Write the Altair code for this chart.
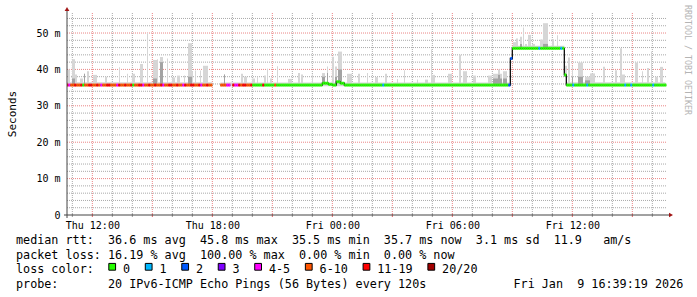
import altair as alt
import pandas as pd

# ---------------- data ----------------
# time in minutes since Thu 00:00, values in ms
X_DOMAIN = [644, 2444]
Y_DOMAIN = [0, 55.5]

X_TICKS = [720, 1080, 1440, 1800, 2160]
X_LABELS = ["Thu 12:00", "Thu 18:00", "Fri 00:00", "Fri 06:00", "Fri 12:00"]
Y_TICKS = [0, 10, 20, 30, 40, 50]

# loss code per 6-minute bin, first bin starts at 642
BIN_START = 642
BIN_MIN = 6
LOSS_EARLY = ("rmooroorgo" "orrooromoo" "rrooomroor" "oorgoorrmo" "orooroormo"
              "orrooroomr" "oorroormoo" "roo" "...." "ooomm.rmmrorroor")
LOSS_LATE_RUNS = [("g", 5), ("r", 1), ("g", 5), ("o", 1), ("g", 53), ("c", 1),
                  ("g", 62), ("b", 2), ("g", 13), ("c", 1), ("g", 10), ("c", 1),
                  ("g", 5), ("c", 1), ("g", 6), ("c", 1), ("g", 18), ("c", 1),
                  ("g", 2), ("c", 1), ("g", 10), ("c", 1), ("g", 6)]

# median rtt, piecewise
MED_BOUNDS = [642, 1410, 1428, 1440, 1452, 1464, 1476, 1974, 1980, 2136, 2142, 2442]
MED_VALUES = [35.7, 36.2, 35.9, 35.7, 36.6, 36.2, 35.7, 43.0, 45.8, 38.5, 35.7]

# smoke: low band just above the median
BAND_T0 = [644, 1104, 1980, 2142]
BAND_T1 = [1080, 1974, 2136, 2439]
BAND_LO = [35.4, 35.4, 45.5, 35.4]
BAND_TOP = [36.5, 36.4, 46.5, 36.5]

# smoke spikes: start, end, top, darker inner top (0 = none)
SMOKE_T0 = [647, 659, 668, 683, 695, 704, 722, 758, 800, 824, 839, 863, 884, 902, 914,
            923, 944, 959, 974, 995, 1007, 1019, 1028, 1043, 1052,
            1115, 1166, 1175, 1199, 1214, 1235, 1244, 1253, 1274, 1307, 1337, 1346, 1379,
            1409, 1424, 1439, 1448, 1457, 1484, 1517, 1544,
            1568, 1598, 1634, 1655, 1694, 1718, 1736, 1739, 1787, 1820, 1832, 1862, 1907,
            1922, 1937, 1952,
            1982, 1991, 2003, 2012, 2018, 2027, 2039, 2063, 2072, 2099, 2114,
            2135, 2147, 2159, 2177, 2198, 2213, 2252, 2288, 2303, 2309, 2348, 2369, 2384,
            2396, 2408, 2423]
SMOKE_T1 = [653, 668, 674, 692, 698, 710, 734, 764, 803, 827, 848, 872, 887, 914, 917,
            932, 947, 968, 983, 998, 1019, 1022, 1031, 1046, 1067,
            1118, 1172, 1184, 1208, 1217, 1241, 1247, 1259, 1277, 1319, 1343, 1352, 1382,
            1418, 1427, 1445, 1454, 1469, 1499, 1523, 1547,
            1577, 1604, 1637, 1658, 1697, 1727, 1739, 1748, 1799, 1826, 1844, 1871, 1919,
            1949, 1943, 1964,
            1991, 1997, 2009, 2015, 2024, 2036, 2048, 2072, 2087, 2105, 2117,
            2144, 2153, 2162, 2192, 2213, 2228, 2258, 2294, 2309, 2318, 2357, 2372, 2390,
            2399, 2417, 2432]
SMOKE_TOP = [40.0, 42.8, 38.6, 37.5, 38.8, 39.5, 38.5, 38.0, 40.6, 38.8, 38.8, 41.5, 50.0, 42.6, 42.8,
             43.4, 43.0, 37.8, 38.3, 38.3, 47.2, 39.5, 39.7, 39.7, 41.0,
             38.6, 38.8, 38.0, 37.5, 38.0, 38.3, 40.2, 37.5, 40.9, 37.4, 39.0, 38.6, 38.6,
             39.0, 40.8, 43.5, 40.8, 44.9, 38.8, 38.8, 39.0,
             37.9, 38.8, 37.4, 39.8, 37.2, 37.2, 45.5, 38.5, 38.8, 44.0, 39.5, 38.3, 38.3,
             38.8, 40.0, 39.5,
             47.5, 48.5, 49.0, 51.5, 47.0, 49.5, 47.0, 48.2, 52.7, 48.3, 49.4,
             41.0, 43.3, 41.0, 41.9, 38.0, 38.9, 40.7, 39.8, 45.8, 38.6, 41.9, 39.5, 40.4,
             44.9, 38.0, 40.7]
SMOKE_DARK = [0, 37.5, 0, 0, 38.8, 0, 0, 0, 0, 0, 0, 0, 0, 37.5, 0,
              42.0, 0, 0, 0, 0, 38.0, 0, 0, 0, 0,
              38.6, 0, 0, 0, 0, 0, 0, 0, 0, 0, 0, 0, 0,
              38.0, 39.0, 0, 38.0, 40.0, 0, 0, 0,
              0, 0, 0, 0, 0, 0, 0, 0, 0, 0, 0, 0, 0,
              37.5, 38.5, 37.5,
              0, 0, 47.0, 0, 0, 0, 0, 0, 47.0, 0, 0,
              38.0, 0, 38.0, 38.0, 37.0, 0, 0, 0, 0, 0, 0, 0, 0,
              0, 0, 0]

LOSS_CODES = ["g", "c", "b", "v", "m", "o", "r", "d"]
LOSS_LABELS = ["0", "1", "2", "3", "4-5", "6-10", "11-19", "20/20"]
LOSS_COLORS = ["#26ff00", "#00b8ff", "#0059ff", "#7e00ff", "#ff00ff", "#ff5500", "#ff0000", "#a10000"]

LINE1 = "median rtt:  36.6 ms avg  45.8 ms max  35.5 ms min  35.7 ms now  3.1 ms sd  11.9   am/s"
LINE2 = "packet loss: 16.19 % avg  100.00 % max  0.00 % min  0.00 % now"
LINE3 = "loss color:"
LINE4 = "probe:       20 IPv6-ICMP Echo Pings (56 Bytes) every 120s"
DATE_TEXT = "Fri Jan  9 16:39:19 2026"
Y_TITLE = "Seconds"
WATERMARK = "RRDTOOL / TOBI OETIKER"

# ---------------- styling / layout ----------------
MONO = "DejaVu Sans Mono"
W, H = 600, 202
LEFT, TOP = 67, 13
GRID_GRAY = "#a9a9a9"
GRID_RED = "#ea8585"
ARROW = "#a11515"
AXIS_COL = "#444444"
SMOKE_LIGHT = "#d6d6d6"
SMOKE_DARKC = "#a3a3a3"


def median_at(t):
    for i, v in enumerate(MED_VALUES):
        if MED_BOUNDS[i] <= t < MED_BOUNDS[i + 1]:
            return v
    return MED_VALUES[-1]


codes = list(LOSS_EARLY)
for c, n in LOSS_LATE_RUNS:
    codes += [c] * n

bins, line_rows = [], []
run = 0
for i, c in enumerate(codes):
    t0 = BIN_START + i * BIN_MIN
    t1 = t0 + BIN_MIN
    if c == ".":
        run += 1
        continue
    v = median_at(t0 + BIN_MIN / 2)
    bins.append({"t0": t0, "t1": t1, "v": v, "code": c})
    line_rows.append({"t": t0, "v": v, "run": run, "o": 2 * i})
    line_rows.append({"t": t1, "v": v, "run": run, "o": 2 * i + 1})
bins_df = pd.DataFrame(bins)
line_df = pd.DataFrame(line_rows)

smoke_df = pd.DataFrame({"t0": SMOKE_T0, "t1": SMOKE_T1, "top": SMOKE_TOP, "dark": SMOKE_DARK})
smoke_df["lo"] = [median_at((a + b) / 2) for a, b in zip(SMOKE_T0, SMOKE_T1)]
dark_df = smoke_df[smoke_df["dark"] > 0]
band_df = pd.DataFrame({"t0": BAND_T0, "t1": BAND_T1, "lo": BAND_LO, "top": BAND_TOP})

hours = list(range(660, 2444, 60))
vgrid = pd.DataFrame({"t": hours, "major": [h % 180 == 0 for h in hours]})
yvals = list(range(2, 56, 2))
hgrid = pd.DataFrame({"y": yvals, "major": [v % 10 == 0 for v in yvals]})

xs = alt.Scale(domain=X_DOMAIN, nice=False, zero=False)
ys = alt.Scale(domain=Y_DOMAIN, nice=False, zero=False)

x_expr = " : ".join(f"datum.value == {v} ? '{l}'" for v, l in zip(X_TICKS, X_LABELS)) + " : ''"
xaxis = alt.Axis(values=X_TICKS, labelExpr=x_expr, title=None, grid=False, domain=False,
                 ticks=False, labelFont=MONO, labelFontSize=10, labelColor="#000000",
                 labelPadding=5, labelFlush=False, labelOverlap=False)
yaxis = alt.Axis(values=Y_TICKS,
                 labelExpr="datum.value == 0 ? '0\u00a0\u00a0' : datum.value + '\u00a0m'",
                 title=None, grid=False, domain=False, ticks=False, labelFont=MONO,
                 labelFontSize=10, labelColor="#000000", labelPadding=7, labelOverlap=False)

layers = []

# grid
layers.append(alt.Chart(vgrid).mark_rule(strokeDash=[1, 1], strokeWidth=1).encode(
    x=alt.X("t:Q", scale=xs, axis=xaxis),
    y=alt.value(0), y2=alt.value(H),
    color=alt.condition("datum.major", alt.value(GRID_RED), alt.value(GRID_GRAY))))
layers.append(alt.Chart(hgrid).mark_rule(strokeDash=[1, 1], strokeWidth=1).encode(
    y=alt.Y("y:Q", scale=ys, axis=yaxis),
    x=alt.value(0), x2=alt.value(W),
    color=alt.condition("datum.major", alt.value(GRID_RED), alt.value(GRID_GRAY))))

# smoke
layers.append(alt.Chart(band_df).mark_rect(color=SMOKE_LIGHT, clip=True).encode(
    x=alt.X("t0:Q", scale=xs, axis=xaxis), x2="t1:Q",
    y=alt.Y("lo:Q", scale=ys, axis=yaxis), y2="top:Q"))
layers.append(alt.Chart(smoke_df).mark_rect(color=SMOKE_LIGHT, clip=True).encode(
    x=alt.X("t0:Q", scale=xs, axis=xaxis), x2="t1:Q",
    y=alt.Y("lo:Q", scale=ys, axis=yaxis), y2="top:Q"))
layers.append(alt.Chart(dark_df).mark_rect(color=SMOKE_DARKC, clip=True).encode(
    x=alt.X("t0:Q", scale=xs, axis=xaxis), x2="t1:Q",
    y=alt.Y("lo:Q", scale=ys, axis=yaxis), y2="dark:Q"))

# median
layers.append(alt.Chart(line_df).mark_line(color="#111111", strokeWidth=1.3, clip=True).encode(
    x=alt.X("t:Q", scale=xs, axis=xaxis),
    y=alt.Y("v:Q", scale=ys, axis=yaxis),
    detail="run:N", order="o:Q"))
layers.append(alt.Chart(bins_df).mark_rule(strokeWidth=3, strokeCap="butt", clip=True).encode(
    x=alt.X("t0:Q", scale=xs, axis=xaxis), x2="t1:Q",
    y=alt.Y("v:Q", scale=ys, axis=yaxis),
    color=alt.Color("code:N", scale=alt.Scale(domain=LOSS_CODES, range=LOSS_COLORS), legend=None)))

# small ticks under the x axis
layers.append(alt.Chart(vgrid).mark_rule(strokeWidth=1).encode(
    x=alt.X("t:Q", scale=xs, axis=xaxis),
    y=alt.value(H - 1), y2=alt.value(H + 2),
    color=alt.condition("datum.major", alt.value("#e06060"), alt.value("#999999"))))

dummy = pd.DataFrame({"a": [0]})
# axis lines and arrows
layers.append(alt.Chart(dummy).mark_rule(color=AXIS_COL, strokeWidth=1).encode(
    x=alt.value(0), y=alt.value(-3), y2=alt.value(H + 3)))
layers.append(alt.Chart(dummy).mark_rule(color=AXIS_COL, strokeWidth=1).encode(
    x=alt.value(-3), x2=alt.value(W + 2), y=alt.value(H)))
layers.append(alt.Chart(dummy).mark_point(shape="triangle-right", filled=True, size=22,
                                         color=ARROW, opacity=1).encode(
    x=alt.value(W + 4), y=alt.value(H)))
layers.append(alt.Chart(dummy).mark_point(shape="triangle-up", filled=True, size=22,
                                         color=ARROW, opacity=1).encode(
    x=alt.value(0), y=alt.value(-4)))


def txt(s, px, py, size=11.75, color="#000000", align="left", angle=0, baseline="alphabetic"):
    return alt.Chart(dummy).mark_text(align=align, baseline=baseline, font=MONO, fontSize=size,
                                      color=color, angle=angle).encode(
        x=alt.value(px - LEFT), y=alt.value(py - TOP),
        text=alt.value(s.replace(" ", "\u00a0")))


CW = 7.08
layers.append(txt(LINE1, 16, 244.3))
layers.append(txt(LINE2, 16, 259.0))
layers.append(txt(LINE3, 16, 273.3))
layers.append(txt(LINE4, 16, 287.7))
layers.append(txt(DATE_TEXT, 513.5, 287.7))
layers.append(txt(Y_TITLE, 15.5, 114, size=11, align="center", angle=270))
layers.append(txt(WATERMARK, 685, 5, size=8.3, color="#b4b4b4", angle=90))

# loss colour legend
tx = 123.0
for lab, col in zip(LOSS_LABELS, LOSS_COLORS):
    layers.append(alt.Chart(dummy).mark_point(shape="square", filled=True, size=46, color=col,
                                             stroke="#000000", strokeWidth=1, opacity=1).encode(
        x=alt.value(tx - 10.8 - LEFT), y=alt.value(266.8 - TOP)))
    layers.append(txt(lab, tx, 273.3))
    tx += len(lab) * CW + 29.4

chart = alt.layer(*layers).properties(
    width=W, height=H,
    autosize=alt.AutoSizeParams(type="none"),
    padding={"left": LEFT, "top": TOP, "right": 697 - LEFT - W, "bottom": 297 - TOP - H},
    background="#ffffff",
).configure_view(stroke=None)

chart.save("out.html", embed_options={"renderer": "svg", "actions": False})
